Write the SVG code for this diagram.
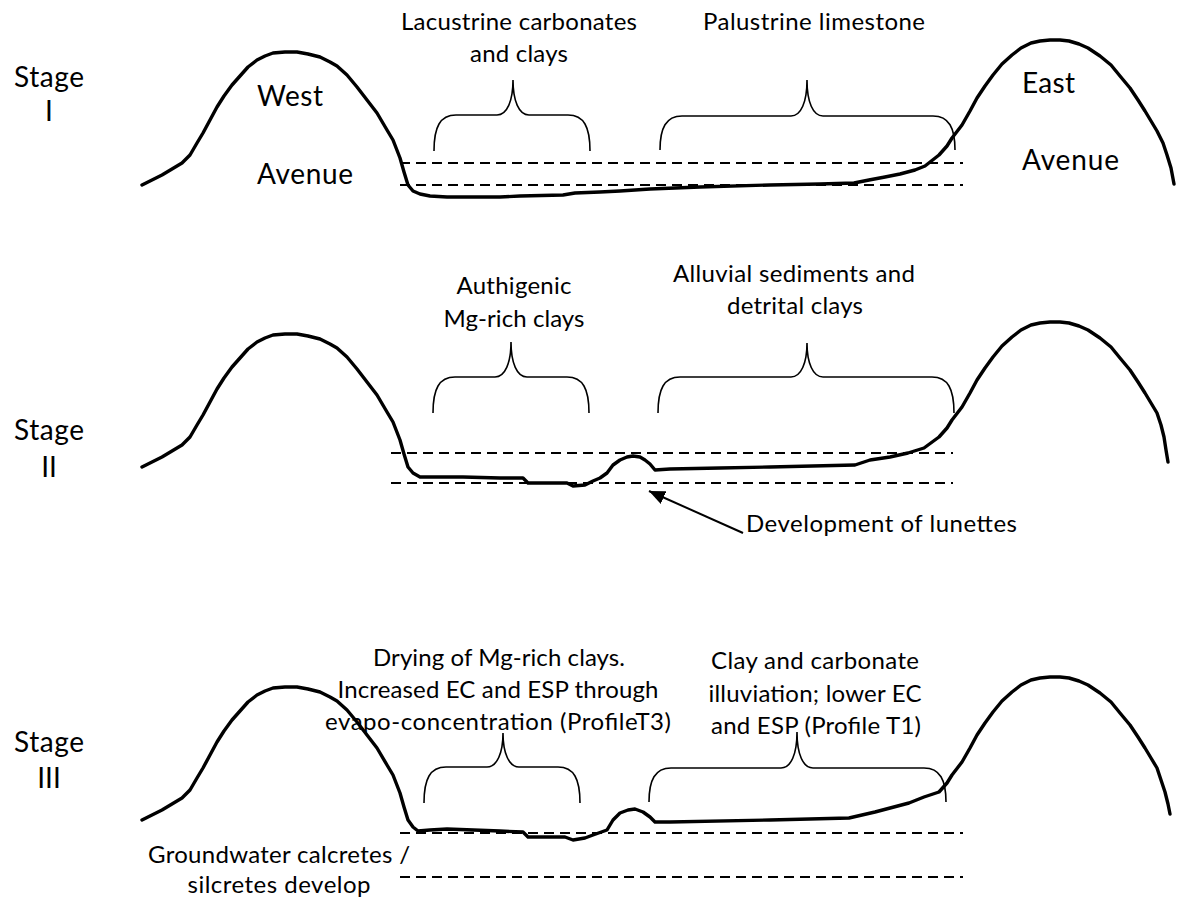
<svg xmlns="http://www.w3.org/2000/svg" width="1179" height="899" viewBox="0 0 1179 899">
  <style>
    .ground { fill: none; stroke: #000; stroke-width: 3.4; stroke-linejoin: round; stroke-linecap: round; }
    .level { stroke: #000; stroke-width: 2; stroke-dasharray: 10 6; fill: none; }
    .brace { fill: none; stroke: #000; stroke-width: 1.6; }
    .t { font-family: Lato, "Liberation Sans", sans-serif; font-size: 24px; fill: #000; }
    .big { font-size: 28px; }
    .mid { text-anchor: middle; }
  </style>
  <defs>
    <marker id="head" markerUnits="userSpaceOnUse" markerWidth="18" markerHeight="14" refX="16" refY="7" orient="auto">
      <path d="M0,0 L16,7 L0,14 Z" fill="#000"/>
    </marker>
  </defs>

  <rect width="1179" height="899" fill="#fff"/>

  <!-- Stage I : lake basin between the two avenues -->
  <g id="stage1">
    <text class="t big mid" x="49" y="87" textLength="70">Stage</text>
    <text class="t big mid" x="49" y="121">I</text>
    <path class="ground" d="M142,185 L152,180 162,175 172,169 182,163 190,155 197,143 203,133 210,120 217,107 224,96 232,85 240,76 248,67 257,60 265,56 273,53 285,52 297,52 308,54 320,57 330,62 337,66 347,75 357,87 367,100 377,113 387,130 393,140 400,158 404,172 408,185 413,191 420,194 430,196 447,197 500,197 520,196 563,195 575,193 600,192 620,191 650,189 700,187 770,185 820,184 854,183 869,180 885,177 900,174 915,170 925,166 939,155 947,146 952,138 962,125 970,111 977,98 985,86 993,75 1002,64 1012,55 1021,48 1031,43 1040,41 1050,40 1060,40 1069,41 1079,44 1088,48 1100,56 1111,65 1120,76 1130,88 1138,100 1145,111 1151,121 1157,131 1163,143 1167,155 1171,168 1174,184"/>
    <line class="level" x1="400" y1="163" x2="963" y2="163"/>
    <line class="level" x1="400" y1="185" x2="963" y2="185"/>
    <path class="brace" d="M434,151 C434,127 440,115 456,115 L497,115 C507,115 513,101 513,80 C513,101 519,115 529,115 L568,115 C584,115 590,127 590,151"/>
    <path class="brace" d="M660,150 C660,128 666,116 682,116 L791,116 C801,116 807,102 807,80 C807,102 813,116 823,116 L933,116 C949,116 955,128 955,150"/>
    <text class="t mid" x="519" y="30" textLength="236">Lacustrine carbonates</text>
    <text class="t mid" x="519" y="62" textLength="98">and clays</text>
    <text class="t mid" x="814" y="30" textLength="222">Palustrine limestone</text>
    <text class="t big" x="257" y="106" textLength="66">West</text>
    <text class="t big" x="257" y="184" textLength="96">Avenue</text>
    <text class="t big" x="1022" y="93" textLength="53">East</text>
    <text class="t big" x="1022" y="170" textLength="97">Avenue</text>
  </g>

  <!-- Stage II : clays, alluvium and a lunette on the lake floor -->
  <g id="stage2">
    <text class="t big mid" x="49" y="440" textLength="70">Stage</text>
    <text class="t big mid" x="49" y="477">II</text>
    <path class="ground" d="M142,467 L152,462 162,457 172,451 182,445 190,437 197,425 203,415 210,402 217,389 224,378 232,367 240,358 248,349 257,342 265,338 273,335 285,334 297,334 308,336 320,339 330,344 337,348 347,357 357,369 367,382 377,395 387,412 393,422 400,440 404,454 408,467 413,473 420,477 440,477 463,477 500,478 523,478 528,483 567,483 573,486 585,485 593,481 600,478 607,473 613,465 620,460 627,457 633,456 640,457 645,460 650,464 655,470 670,469 720,468 770,467 855,465 870,460 890,457 908,453 924,448 939,437 947,428 952,420 962,407 970,393 977,380 985,368 993,357 1002,346 1012,337 1021,330 1031,325 1040,323 1050,322 1060,322 1069,323 1079,326 1088,330 1100,338 1111,347 1120,358 1130,370 1138,382 1145,393 1151,403 1157,413 1161,425 1164,437 1166,450 1168,462"/>
    <line class="level" x1="391" y1="453" x2="953" y2="453"/>
    <line class="level" x1="391" y1="483" x2="953" y2="483"/>
    <path class="brace" d="M433,413 C433,389 439,377 455,377 L495,377 C505,377 511,363 511,342 C511,363 517,377 527,377 L567,377 C583,377 589,389 589,413"/>
    <path class="brace" d="M658,413 C658,389 664,377 680,377 L791,377 C801,377 807,363 807,343 C807,363 813,377 823,377 L932,377 C948,377 954,389 954,413"/>
    <text class="t mid" x="514" y="294" textLength="115">Authigenic</text>
    <text class="t mid" x="514" y="327" textLength="141">Mg-rich clays</text>
    <text class="t mid" x="794" y="282" textLength="242">Alluvial sediments and</text>
    <text class="t mid" x="795" y="314" textLength="136">detrital clays</text>
    <text class="t" x="746" y="532" textLength="271">Development of lunettes</text>
  </g>

  <!-- Stage III : drying of the clays, groundwater calcretes below -->
  <g id="stage3">
    <text class="t big mid" x="49" y="752" textLength="70">Stage</text>
    <text class="t big mid" x="49" y="788">III</text>
    <path class="ground" d="M142,820 L152,815 162,810 172,804 182,798 190,790 197,778 203,768 210,755 217,742 224,731 232,720 240,711 248,702 257,695 265,691 273,688 285,687 297,687 308,689 320,692 330,697 337,701 347,710 357,722 367,735 377,748 387,765 393,775 400,793 404,807 408,820 413,827 418,831 430,830 447,829 500,831 523,832 528,837 565,837 573,840 585,838 593,835 607,830 613,820 620,813 628,810 635,809 643,812 650,817 655,822 670,822 770,820 849,818 875,812 909,803 924,797 939,792 947,783 952,775 962,762 970,748 977,735 985,723 993,712 1002,701 1012,692 1021,685 1031,680 1040,678 1050,677 1060,677 1069,678 1079,681 1088,685 1100,693 1111,702 1120,713 1130,725 1138,737 1145,748 1151,758 1157,768 1161,780 1165,792 1168,804 1170,814"/>
    <line class="level" x1="400" y1="833" x2="963" y2="833"/>
    <line class="level" x1="400" y1="877" x2="963" y2="877"/>
    <path class="brace" d="M424,803 C424,779 430,767 446,767 L487,767 C497,767 503,753 503,733 C503,753 509,767 519,767 L558,767 C574,767 580,779 580,803"/>
    <path class="brace" d="M649,802 C649,780 655,768 671,768 L781,768 C791,768 797,754 797,732 C797,754 803,768 813,768 L924,768 C940,768 946,780 946,802"/>
    <text class="t mid" x="499" y="666" textLength="252">Drying of Mg-rich clays.</text>
    <text class="t mid" x="498" y="698" textLength="321">Increased EC and ESP through</text>
    <text class="t mid" x="498" y="730" textLength="346">evapo-concentration (ProfileT3)</text>
    <text class="t mid" x="815" y="669" textLength="208">Clay and carbonate</text>
    <text class="t mid" x="815" y="702" textLength="213">illuviation; lower EC</text>
    <text class="t mid" x="816" y="734" textLength="210">and ESP (Profile T1)</text>
    <text class="t mid" x="279" y="863" textLength="262">Groundwater calcretes /</text>
    <text class="t mid" x="279" y="893" textLength="183">silcretes develop</text>
  </g>

  <!-- pointer to the lunette -->
  <g id="connectors">
    <line x1="743" y1="533" x2="649" y2="491" stroke="#000" stroke-width="2" marker-end="url(#head)"/>
  </g>
</svg>
